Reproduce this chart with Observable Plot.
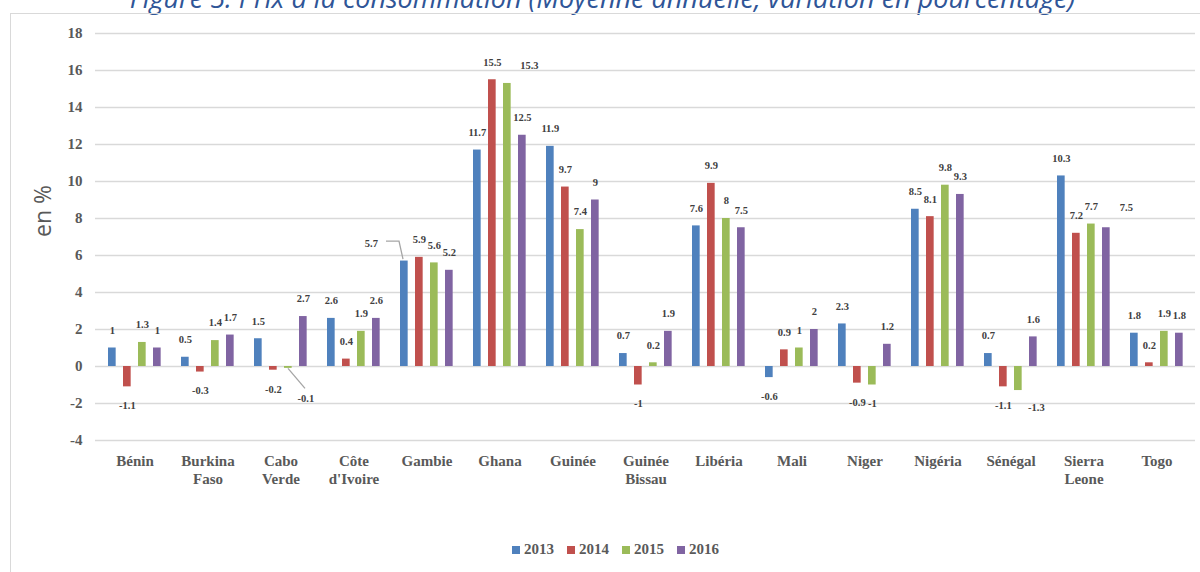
<!DOCTYPE html>
<html>
<head>
<meta charset="utf-8">
<script src="https://cdn.jsdelivr.net/npm/d3@7"></script>
<script src="https://cdn.jsdelivr.net/npm/@observablehq/plot@0.6"></script>
<style>
  html, body { margin: 0; padding: 0; background: #fff; }
  body { width: 1200px; height: 572px; overflow: hidden; position: relative; }
  #title {
    position: absolute; left: 0; top: -17px; width: 1205px; text-align: center;
    font-family: "Open Sans", sans-serif; font-style: italic; font-size: 27px;
    line-height: 30px; color: #2f5597; white-space: nowrap;
  }
  #chart { position: absolute; left: 0; top: 0; }
  #frame {
    position: absolute; left: 10px; top: 13px; width: 1250px; height: 640px;
    border: 1px solid #d9d9d9; box-sizing: border-box; pointer-events: none;
  }
  #legend { position: absolute; left: 0; top: 533px; width: 1244px; display: flex; justify-content: center; }
  #legend .lg-swatches { font-family: "Liberation Serif", serif; font-weight: bold; font-size: 15px; color: #595959; margin: 0 !important; }
  #legend .lg-swatch { margin-right: 13px !important; }
  #legend .lg-swatch > svg { margin-right: 4px !important; }
</style>
</head>
<body>
<div id="title">Figure 5: Prix à la consommation (Moyenne annuelle, variation en pourcentage)</div>
<div id="chart"></div>
<div id="frame"></div>
<div id="legend"></div>
<script>
// Consumer price inflation, annual average (%), ECOWAS countries 2013–2016
const countries = ["Bénin", "Burkina Faso", "Cabo Verde", "Côte d'Ivoire", "Gambie", "Ghana", "Guinée",
  "Guinée Bissau", "Libéria", "Mali", "Niger", "Nigéria", "Sénégal", "Sierra Leone", "Togo"];
const countryLabels = ["Bénin", "Burkina\nFaso", "Cabo\nVerde", "Côte\nd'Ivoire", "Gambie", "Ghana", "Guinée",
  "Guinée\nBissau", "Libéria", "Mali", "Niger", "Nigéria", "Sénégal", "Sierra\nLeone", "Togo"];
const years = ["2013", "2014", "2015", "2016"];
const v2013 = [1, 0.5, 1.5, 2.6, 5.7, 11.7, 11.9, 0.7, 7.6, -0.6, 2.3, 8.5, 0.7, 10.3, 1.8];
const v2014 = [-1.1, -0.3, -0.2, 0.4, 5.9, 15.5, 9.7, -1, 9.9, 0.9, -0.9, 8.1, -1.1, 7.2, 0.2];
const v2015 = [1.3, 1.4, -0.1, 1.9, 5.6, 15.3, 7.4, 0.2, 8, 1, -1, 9.8, -1.3, 7.7, 1.9];
const v2016 = [1, 1.7, 2.7, 2.6, 5.2, 12.5, 9, 1.9, 7.5, 2, 1.2, 9.3, 1.6, 7.5, 1.8];
const yTicks = [-4, -2, 0, 2, 4, 6, 8, 10, 12, 14, 16, 18];
const yearColors = ["#4f81bd", "#c0504d", "#9bbb59", "#8064a2"];

const series = [v2013, v2014, v2015, v2016];
const rows = years.flatMap((year, j) => countries.map((country, i) => ({country, year, value: series[j][i]})));

// Layout
const W = 1200, H = 500;
const mL = 95, mR = 5, mT = 33, mB = 60;
const bw = (W - mL - mR) / countries.length;      // width of one country group
const barOuter = 10, barStep = 15, barWidth = 8;  // bars inside a group
const barLeft = j => barOuter + barStep * j;
const barOffset = j => barLeft(j) + barWidth / 2 - bw / 2; // from group centre

// Hand-placed value labels (moved aside to avoid overlaps), offsets in px from the bar centre/end
const moved = new Map([
  ["Ghana|2015", {dx: 22, dy: -18}],
  ["Sierra Leone|2016", {dx: 20, dy: -20}],
  ["Sénégal|2015", {dx: 18, dy: 17}],
  ["Cabo Verde|2015", {dx: 17.5, dy: 30}],
  ["Gambie|2013", {dx: -33, dy: -17}]
]);
// Leader lines joining moved labels back to their bars
const leaders = [
  {country: "Cabo Verde", year: "2015", path: [[0, 0.5], [17, 20.5]]},
  {country: "Gambie", year: "2013", path: [[-1, -1.5], [-5, -19.5], [-18, -19.5]]}
];

const valueFont = {fontFamily: "Liberation Serif", fontWeight: "bold", fontSize: 10.5, fill: "#404040"};
const axisFont = {fontFamily: "Liberation Serif", fontWeight: "bold", fontSize: 15, fill: "#595959"};
const key = d => `${d.country}|${d.year}`;

const barMarks = years.map((year, j) => Plot.barY(rows.filter(d => d.year === year), {
  x: "country", y: "value", fill: "year",
  insetLeft: barLeft(j), insetRight: bw - barLeft(j) - barWidth
}));

const labelMarks = years.flatMap((year, j) => [
  Plot.text(rows.filter(d => d.year === year && d.value >= 0 && !moved.has(key(d))), {
    x: "country", y: "value", text: d => String(d.value), dx: barOffset(j), dy: -17.5, ...valueFont
  }),
  Plot.text(rows.filter(d => d.year === year && d.value < 0 && !moved.has(key(d))), {
    x: "country", y: "value", text: d => String(d.value), dx: barOffset(j), dy: 19, ...valueFont
  })
]);

const movedMarks = rows.filter(d => moved.has(key(d))).map(d => {
  const j = years.indexOf(d.year), o = moved.get(key(d));
  return Plot.text([d], {
    x: "country", y: "value", text: d => String(d.value),
    dx: barOffset(j) + o.dx, dy: o.dy, ...valueFont
  });
});

function leaderLines(index, scales) {
  const {x, y} = scales;
  const g = d3.create("svg:g")
    .attr("fill", "none").attr("stroke", "#a5a5a5").attr("stroke-width", 1.3);
  for (const L of leaders) {
    const j = years.indexOf(L.year);
    const v = series[j][countries.indexOf(L.country)];
    const cx = x(L.country) + barLeft(j) + barWidth / 2;
    const cy = y(v);
    g.append("path").attr("d", d3.line()(L.path.map(([dx, dy]) => [cx + dx, cy + dy])));
  }
  return g.node();
}

const chart = Plot.plot({
  width: W, height: H,
  marginLeft: mL, marginRight: mR, marginTop: mT, marginBottom: mB,
  style: {background: "transparent", overflow: "visible"},
  x: {type: "band", domain: countries, padding: 0, axis: null},
  y: {domain: [-4, 18], axis: null},
  color: {domain: years, range: yearColors},
  marks: [
    Plot.ruleY(yTicks, {stroke: "#d9d9d9", strokeWidth: 1.5}),
    ...barMarks,
    ...labelMarks,
    ...movedMarks,
    leaderLines,
    Plot.text(yTicks, {y: d => d, text: d => String(d), frameAnchor: "left", textAnchor: "end", dx: -13, ...axisFont}),
    Plot.text(countries, {
      x: d => d, text: (d, i) => countryLabels[i], frameAnchor: "bottom",
      lineAnchor: "top", lineHeight: 1.2, dy: 13, ...axisFont
    }),
    Plot.text(["en %"], {
      frameAnchor: "left", dx: -52, rotate: -90, text: d => d,
      fontFamily: "Open Sans", fontSize: 23, fill: "#595959"
    })
  ]
});
document.getElementById("chart").appendChild(chart);
document.getElementById("legend").appendChild(chart.legend("color", {swatchSize: 8, className: "lg"}));
</script>
</body>
</html>
